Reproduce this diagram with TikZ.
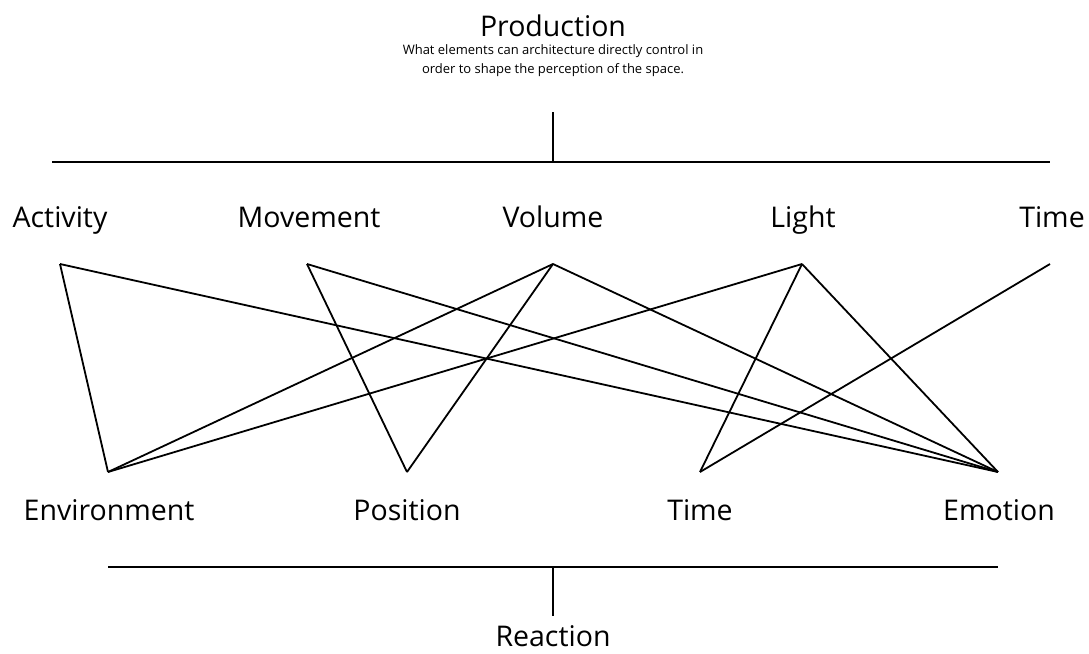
\documentclass[tikz,border=0pt]{standalone}
\usepackage{fontspec}
\setmainfont{Open Sans}
\usepackage{tikz}

\begin{document}
\begin{tikzpicture}[x=1pt,y=-1pt,
		word/.style={anchor=base,inner sep=0pt,font=\fontsize{28.5}{32}\selectfont},
		note/.style={anchor=base,inner sep=0pt,font=\fontsize{13}{15}\selectfont},
		link/.style={line width=1.8pt,line join=miter}]
			\useasboundingbox (0,0) rectangle (1089,653);

			%% heading
			\node[word] (prod) at (553,36) {Production};
			\node[note] (sub1) at (553,54) {What elements can architecture directly control in};
			\node[note] (sub2) at (553,73) {order to shape the perception of the space.};
			\coordinate (prodstem) at (553,112);
			\coordinate (topmid) at (553,162);
			\coordinate (topleft) at (52,162);
			\coordinate (topright) at (1050,162);
			\draw[link] (prodstem) -- (topmid);
			\draw[link] (topleft) -- (topright);

			%% upper row
			\node[word] (activity) at (60,227) {Activity};
			\node[word] (movement) at (309,227) {Movement};
			\node[word] (volume) at (553,227) {Volume};
			\node[word] (light) at (803,227) {Light};
			\node[word] (timeup) at (1052,227) {Time};
			\coordinate (p1) at (60,264);
			\coordinate (p2) at (307,264);
			\coordinate (p3) at (553,264);
			\coordinate (p4) at (802,264);
			\coordinate (p5) at (1050,264);

			%% lower row
			\node[word] (environment) at (109,520) {Environment};
			\node[word] (position) at (407,520) {Position};
			\node[word] (timedown) at (700,520) {Time};
			\node[word] (emotion) at (999,520) {Emotion};
			\coordinate (q1) at (108,472);
			\coordinate (q2) at (407,472);
			\coordinate (q3) at (700,472);
			\coordinate (q4) at (998,472);

			%% lines
			\draw[link] (p1) -- (q1);
			\draw[link] (p1) -- (q4);
			\draw[link] (p2) -- (q2);
			\draw[link] (p2) -- (q4);
			\draw[link] (p3) -- (q1);
			\draw[link] (p3) -- (q2);
			\draw[link] (p3) -- (q4);
			\draw[link] (p4) -- (q1);
			\draw[link] (p4) -- (q3);
			\draw[link] (p4) -- (q4);
			\draw[link] (p5) -- (q3);

			%% footing
			\coordinate (botleft) at (108,567);
			\coordinate (botright) at (998,567);
			\coordinate (botmid) at (553,567);
			\coordinate (reactstem) at (553,616);
			\draw[link] (botleft) -- (botright);
			\draw[link] (botmid) -- (reactstem);
			\node[word] (reaction) at (553,646) {Reaction};
		\end{tikzpicture}
\end{document}
